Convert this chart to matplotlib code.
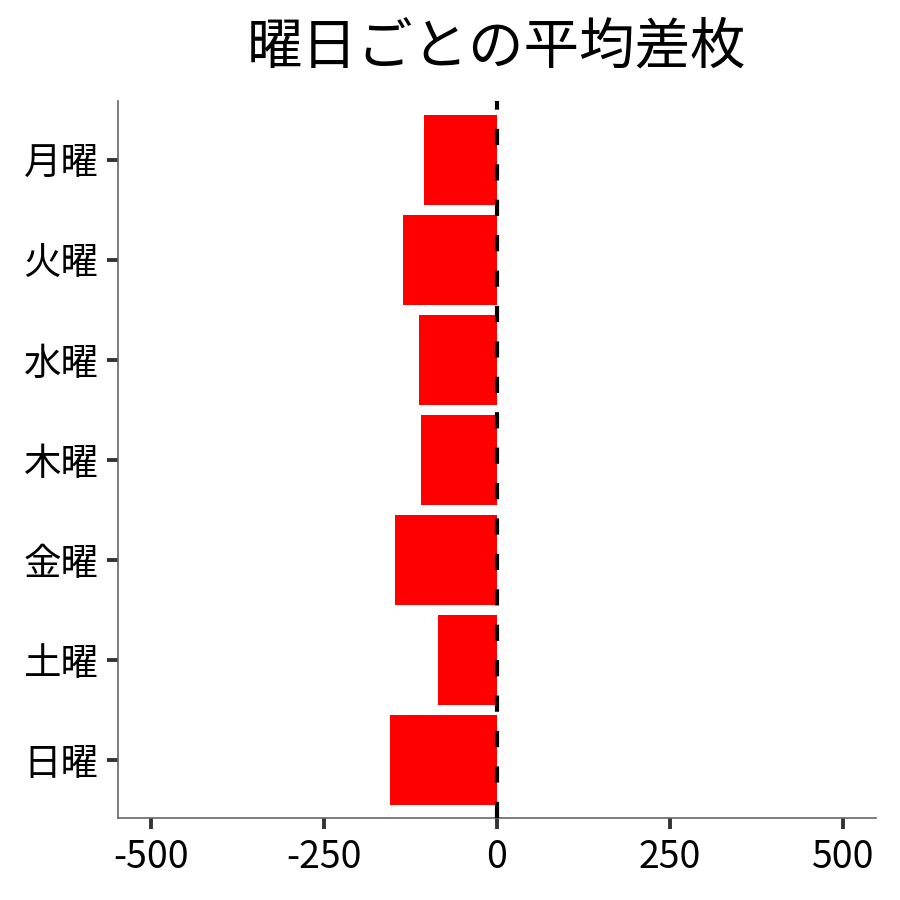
import matplotlib
matplotlib.use("Agg")
import matplotlib.pyplot as plt

plt.rcParams["font.family"] = ["Noto Sans CJK JP", "DejaVu Sans"]

days = ["月曜", "火曜", "水曜", "木曜", "金曜", "土曜", "日曜"]
avg_diff = [-105, -136, -113, -110, -147, -85, -155]
xticks = [-500, -250, 0, 250, 500]

fig = plt.figure(figsize=(9, 9), dpi=100)
ax = fig.add_axes([0.131, 0.091, 0.842, 0.797])

ypos = list(range(len(days)))
ax.barh(ypos, avg_diff, height=0.9, color="#ff0000", zorder=2)
ax.axvline(0, color="black", lw=3, dashes=(3.9, 4.6), zorder=3)

ax.set_xlim(-548, 548)
ax.set_ylim(len(days) - 0.42, -0.59)
ax.set_yticks(ypos)
ax.set_yticklabels(days)
ax.set_xticks(xticks)
ax.set_xticklabels([str(v) for v in xticks])

for side in ["top", "right"]:
    ax.spines[side].set_visible(False)
for side in ["left", "bottom"]:
    ax.spines[side].set_color("#666666")
    ax.spines[side].set_linewidth(1.2)

ax.tick_params(axis="both", length=8, width=2.8, color="#333333",
               labelsize=27, pad=6)
ax.set_title("曜日ごとの平均差枚", fontsize=40, pad=27)

fig.savefig("out.png", dpi=100)
